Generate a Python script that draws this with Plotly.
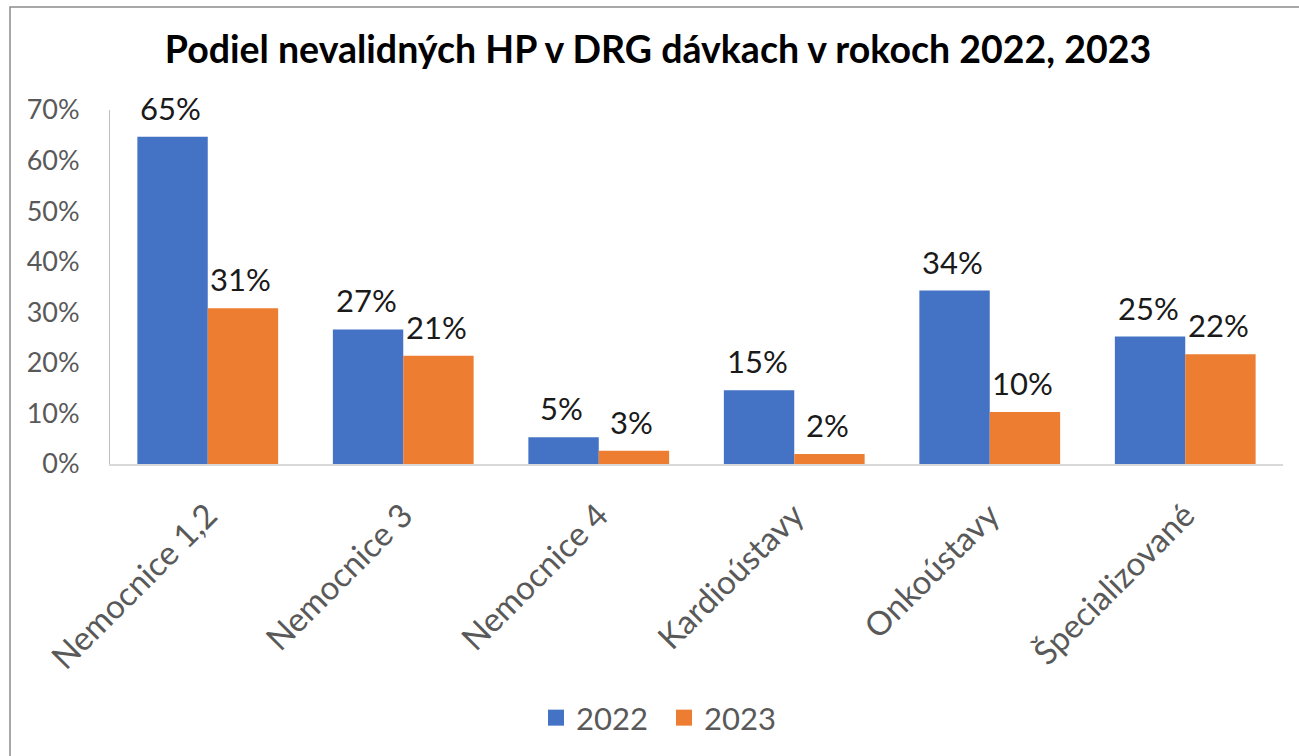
import plotly.graph_objects as go

categories = ["Nemocnice 1,2", "Nemocnice 3", "Nemocnice 4", "Kardioústavy", "Onkoústavy", "Špecializované"]
values_2022 = [0.647, 0.266, 0.053, 0.146, 0.343, 0.252]
values_2023 = [0.308, 0.214, 0.026, 0.020, 0.103, 0.217]
series_names = ["2022", "2023"]
series_colors = ["#4472C4", "#ED7D31"]
y_ticks = [0, 0.1, 0.2, 0.3, 0.4, 0.5, 0.6, 0.7]

FONT = "Lato"
W, H = 1299, 756
L, R, T, B = 110, 16, 110, 292
pw = W - L - R
ph = H - T - B
BARGAP = 0.28

fig = go.Figure()
series = [values_2022, values_2023]
for name, vals, col in zip(series_names, series, series_colors):
    fig.add_trace(go.Bar(
        x=categories, y=vals, name=name,
        marker=dict(color=col, line=dict(width=0)),
        showlegend=False,
    ))
    # legend proxy with larger square swatch
    fig.add_trace(go.Scatter(
        x=[None], y=[None], mode="markers", name=name,
        marker=dict(symbol="square", size=21, color=col),
        showlegend=True,
    ))

# data labels above bars
cat_px = pw / len(categories)
bar_px = cat_px * (1 - BARGAP) / 2
annotations = []
for i, (vals, name) in enumerate(zip(series, series_names)):
    shift = (i - 0.5) * bar_px
    for c, v in zip(categories, vals):
        annotations.append(dict(
            x=c, y=v, xref="x", yref="y", text=f"{v*100:.0f}%",
            showarrow=False, xanchor="center", yanchor="bottom",
            xshift=shift - 2, yshift=8,
            font=dict(family=FONT, size=31, color="#1a1a1a"),
        ))

def px_x(p):
    return (p - L) / pw

def px_y(p):
    return (H - B - p) / ph

fig.update_layout(
    width=W, height=H,
    margin=dict(l=L, r=R, t=T, b=B, autoexpand=False),
    paper_bgcolor="white", plot_bgcolor="white",
    barmode="group", bargap=BARGAP, bargroupgap=0,
    title=dict(text="<b>Podiel nevalidných HP v DRG dávkach v rokoch 2022, 2023</b>",
               x=658 / W, xref="container", xanchor="center",
               y=1 - 50 / H, yref="container", yanchor="middle",
               font=dict(family=FONT, size=37.5, color="#000000")),
    font=dict(family=FONT),
    legend=dict(orientation="h", x=664 / W, xanchor="center", xref="container",
                y=1 - 718 / H, yanchor="middle", yref="container",
                font=dict(family=FONT, size=31, color="#595959"),
                itemwidth=30, traceorder="normal", tracegroupgap=0,
                entrywidth=83, entrywidthmode="pixels"),
    xaxis=dict(tickangle=-45, tickfont=dict(family=FONT, size=33, color="#595959"),
               showline=True, linecolor="#d9d9d9", linewidth=2, ticks="", showgrid=False,
               automargin=False, fixedrange=True, ticklabelstandoff=17),
    yaxis=dict(range=[0, 0.7], tickvals=y_ticks, tickformat=".0%",
               tickfont=dict(family=FONT, size=27, color="#595959"),
               showgrid=False, zeroline=False, showline=True, linecolor="#bfbfbf", linewidth=1,
               ticks="", ticklen=0, ticklabelstandoff=24, automargin=False, fixedrange=True),
    annotations=annotations,
    shapes=[dict(type="rect", xref="paper", yref="paper",
                 x0=px_x(10), x1=px_x(W + 20), y0=px_y(H + 20), y1=px_y(7),
                 line=dict(color="#8c8c8c", width=1.5), fillcolor="rgba(0,0,0,0)", layer="below")],
)

fig.write_html("out.html", config={"displayModeBar": False},
               post_script="document.body.style.margin='0';document.body.style.overflow='hidden';")
